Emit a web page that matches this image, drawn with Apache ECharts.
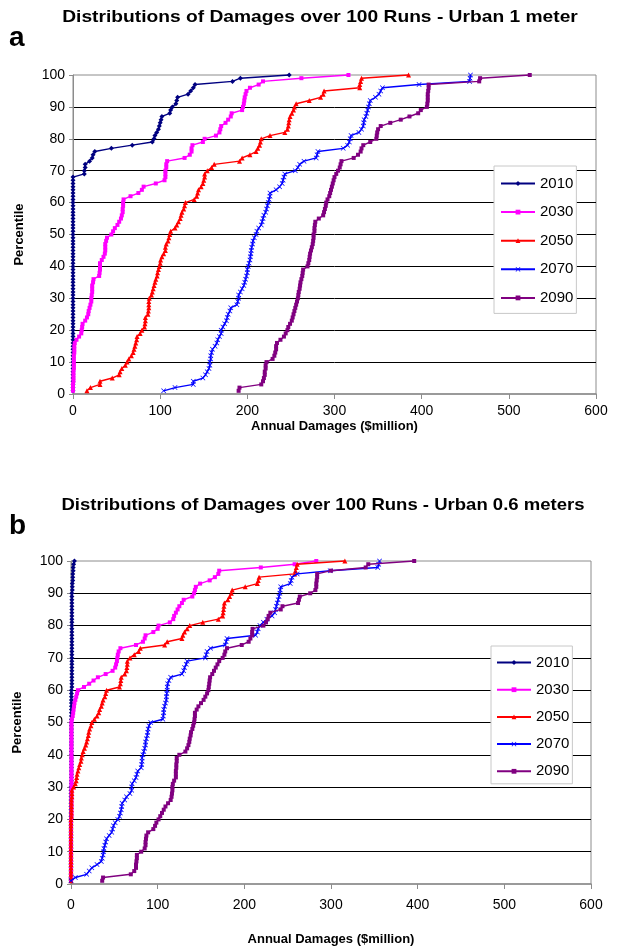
<!DOCTYPE html>
<html>
<head>
<meta charset="utf-8">
<script src="https://cdn.jsdelivr.net/npm/echarts@6/dist/echarts.min.js"></script>
<style>
html,body{margin:0;padding:0;background:#fff;}
#chart{width:617px;height:949px;}
</style>
</head>
<body>
<div id="chart"></div>
<script>
// ---- DATA ----
const years = ['2010', '2030', '2050', '2070', '2090'];
const xTicks = [0, 100, 200, 300, 400, 500, 600];
const yTicks = [0, 10, 20, 30, 40, 50, 60, 70, 80, 90, 100];
const titleA = 'Distributions of Damages over 100 Runs - Urban 1 meter';
const titleB = 'Distributions of Damages over 100 Runs - Urban 0.6 meters';
const xName = 'Annual Damages ($million)';
const yName = 'Percentile';

// percentile rank of each of the 100 runs
const percentile = [
  1,2,3,4,5,6,7,8,9,10, 11,12,13,14,15,16,17,18,19,20,
  21,22,23,24,25,26,27,28,29,30, 31,32,33,34,35,36,37,38,39,40,
  41,42,43,44,45,46,47,48,49,50, 51,52,53,54,55,56,57,58,59,60,
  61,62,63,64,65,66,67,68,69,70, 71,72,73,74,75,76,77,78,79,80,
  81,82,83,84,85,86,87,88,89,90, 91,92,93,94,95,96,97,98,99,100
];

// Panel a: Urban 1 meter (damages, $million, sorted by run percentile)
const a2010 = [
  0,0,0,0,0,0,0,0,0,0, 0,0,0,0,0,0,0,0,0,0,
  0,0,0,0,0,0,0,0,0,0, 0,0,0,0,0,0,0,0,0,0,
  0,0,0,0,0,0,0,0,0,0, 0,0,0,0,0,0,0,0,0,0,
  0,0,0,0,0,0,0,0,13,13, 14,14,19,22,23,25,44,68,91,93,
  94,96,98,99,100,101,102,111,112,114, 118,119,120,132,135,138,140,183,192,248
];
const a2030 = [
  0,0,0,0.5,0.5,0.5,0.5,1,1,1, 1,1,1.5,1.5,1.5,2,4,7,9.5,10,
  10.5,11,14,16,17.5,18,19,20,21,21, 21.5,22,22,22,23,23.5,30,30.5,31,31,
  31,33,35,36.5,37,37,37,38,39,44, 46,48,51,53,55,56,57,57,57.5,57.5,
  58,66,75,79,81,95,105,106,106,106, 107,107,108,128,134,136,136,137,149,151,
  164,168,169,170,175,178,181,182,194,195, 196,196.5,197,198,199,203,213,218,262,316
];
const a2050 = [
  16,20,31,31,45,53,54,56,60,62, 64,67,69,70,71,72,73,73.5,77,79,
  82,82.5,83,83,86,86.5,87,87,87,87.5, 90,91,92,93,94,95,96.5,97,98,99,
  100,100.5,102,104,106,106,107,109,110,111, 112,117,119,121,123,124,125,127,128,129,
  139,142,143,144,147,149,150,151,151,154, 159,162,191,194,203,210,212,214,215,216,
  226,243,246,247,247.5,248,249,251,253,254, 256,271,284,287,288,329,329,330,331,385
];
const a2070 = [
  104,117,138,138,149,152,154,156,157,157, 158,158,159,160,163,165,166,168,170,170,
  172,174,176,177,178,180,181,188,189,190, 190,192,194,196,197,198,199,200,200,201,
  202,203,203.5,204,204.5,205,206,206.5,208,210, 211,213,216,217,218,219,221,222,223,224,
  225,226,226,233,237,240,241,242,243,255, 258,260,265,279,280,281,310,315,317,318,
  319,328,331,333,333.5,334,336,337,338,339, 340,341,347,351,353,355,397,455,455.5,456
];
const a2090 = [
  190,191,216,218,219,220,220,221,221,222, 229,231,232,233,233,234,238,242,244,246,
  247,249,251,252,253,254,255,256,257,258, 258.5,259,260,260.5,261,262,263,263.5,264,269,
  270,271,271.5,272,273,274,275,275.5,276,276, 277,277,277.5,278,282,287,288,289,290,290.5,
  292,294,295,296,297,298,299,300,302,304, 306,307,308,322,327,330,331,333,341,348,
  348.5,349,350,353,364,376,386,396,399,406, 406.5,407,407,407,407.5,408,408,466,467,524
];

// Panel b: Urban 0.6 meters
const b2010 = [
  0,0,0,0,0,0,0,0,0,0, 0,0,0,0,0,0,0,0,0,0,
  0,0,0,0,0,0,0,0,0,0, 0.5,0.5,0.5,0.5,0.5,0.5,0.5,0.5,0.5,0.5,
  0.5,0.5,0.5,0.5,0.5,0.5,0.5,0.5,0.5,0.5, 0.5,0.5,0.5,0.5,0.5,0.5,0.5,0.5,0.5,0.5,
  1,1,1,1,1,1,1,1,1,1, 1,1,1,1,1,1,1,1,1,1,
  1,1,1,1,1,1,1,1,1,1, 1.5,1.5,1.5,2,2,2,2.5,2.5,3,4
];
const b2030 = [
  0,0,0,0,0,0,0,0,0,0, 0,0,0,0,0,0,0,0,0,0,
  0.5,0.5,0.5,0.5,0.5,0.5,0.5,0.5,0.5,0.5, 0.5,0.5,0.5,0.5,0.5,0.5,0.5,0.5,0.5,0.5,
  0.5,0.5,0.5,0.5,0.5,0.5,0.5,0.5,0.5,0.5, 1,2,2.5,3,3.5,4,5,6,7,8,
  15,21,26,31,40,48,51,52,53,53.5, 54,55,57,75,83,85,86,95,100,101,
  114,118,119,121,123,125,128,130,140,142, 143,144,149,160,166,170,171,219,258,283
];
const b2050 = [
  0,0,0,0,0,0,0,0,0,0, 0,0,0,0,0,0,0,0,0,0,
  0.5,0.5,0.5,0.5,0.5,0.5,1,1,1,3, 5,6,6.5,7,8,9,10,11.5,12,13,
  14,15.5,17,18,19,20,20.5,21.5,23,24, 27,30,32,33,35,36,37,39,40,41,
  56,57,57.5,58,62,64,64.5,65,65,68, 73,78,80,108,111,128,129,131,134,137,
  152,170,175,175.5,176,176.5,177,181,183,185, 186,201,215,216,217,258,259,260,261,316
];
const b2070 = [
  0,5,18,21,24,30,35,36,37,37.5, 38,39,40,41,44,47,48,49,51,54,
  56,57,58,58.5,59,62,64,68,70,70, 70.5,73,75,76,77,81,81.5,82,82,83,
  84,85,86,86,87,88,88.5,89,90,92, 106,106.5,107,107,108,109,110,110,110.5,111,
  111,111.5,113,115,128,130,131,133,134,155, 156,157,161,178,179,180,213,215,216,218,
  222,226,232,235,236,237,238,239,240,241, 241.5,242,253,254,255,261,299,354,355,356
];
const b2090 = [
  36,37,69,73,75,75,75.5,76,76,81, 85,86,86,86.5,87,89,95,97,98.5,101,
  103,105,107,109,112,115,116,116.5,117,117, 117.5,119,121,121,121,121.5,121.5,122,122,125,
  132,134,135.5,136.5,137,138,138.5,140,141,142, 142.5,143,143,145,147,150,153,155,157,158.5,
  159,159.5,160,160.5,163,165,167,169,171,175, 177,178,180,197,205,207,209,209,209.5,222,
  225,227,228,230,242,244,262,263,264,276, 282,283,283,283.5,284,284,300,340,343,396
];

// ---- STYLE ----
const colors = ['#000080', '#FF00FF', '#FF0000', '#0000FF', '#800080'];
const xMark = 'path://M0,1L1,0L5,4L9,0L10,1L6,5L10,9L9,10L5,6L1,10L0,9L4,5Z';
const symbols = ['diamond', 'rect', 'triangle', xMark, 'rect'];
const symbolSizes = [5, 4, 5, 5, 4];
const FONT = '"Liberation Sans", Arial, Helvetica, sans-serif';

const panelA = [a2010, a2030, a2050, a2070, a2090];
const panelB = [b2010, b2030, b2050, b2070, b2090];

function pairs(vals) {
  return vals.map((v, i) => [v, percentile[i]]);
}

function makeX(gi, labelMargin, nameGap) {
  return {
    type: 'value', gridIndex: gi, min: xTicks[0], max: xTicks[xTicks.length - 1], interval: 100,
    axisLine: { show: true, onZero: false, lineStyle: { color: '#8c8c8c', width: 1.5 } },
    axisTick: { show: true, length: 5, lineStyle: { color: '#8c8c8c' } },
    axisLabel: { color: '#000', fontSize: 14, fontFamily: FONT, margin: labelMargin },
    splitLine: { show: false },
    name: xName, nameLocation: 'middle', nameGap: nameGap,
    nameTextStyle: { color: '#000', fontSize: 13, fontWeight: 'bold', fontFamily: FONT }
  };
}
function makeY(gi) {
  return {
    type: 'value', gridIndex: gi, min: yTicks[0], max: yTicks[yTicks.length - 1], interval: 10,
    axisLine: { show: true, onZero: false, lineStyle: { color: '#8c8c8c', width: 1 } },
    axisTick: { show: true, length: 4, lineStyle: { color: '#8c8c8c' } },
    axisLabel: { color: '#000', fontSize: 14, fontFamily: FONT, margin: 8 },
    splitLine: { show: true, showMinLine: false, showMaxLine: false, lineStyle: { color: '#000', width: 1 } },
    name: yName, nameLocation: 'middle', nameGap: 47, nameRotate: 90,
    nameTextStyle: { color: '#000', fontSize: 13, fontWeight: 'bold', fontFamily: FONT }
  };
}

const series = [];
[panelA, panelB].forEach((panel, pi) => {
  panel.forEach((vals, si) => {
    series.push({
      name: years[si], type: 'line', xAxisIndex: pi, yAxisIndex: pi,
      data: pairs(vals), symbol: symbols[si], symbolSize: symbolSizes[si],
      showSymbol: true, clip: false, color: colors[si],
      lineStyle: { color: colors[si], width: 1.4 },
      itemStyle: { color: colors[si] },
      emphasis: { disabled: true }, z: 3 + si
    });
  });
});

function makeLegend(left, top, gap, padding) {
  return {
    show: true, orient: 'vertical', left: left, top: top,
    data: years.map(y => ({ name: y })),
    itemWidth: 34, itemHeight: 6, itemGap: gap,
    backgroundColor: '#fff', borderColor: '#c8c8c8', borderWidth: 1, borderRadius: 0,
    padding: padding,
    textStyle: { color: '#000', fontSize: 15, lineHeight: 15, fontFamily: FONT },
    selectedMode: false
  };
}

const option = {
  animation: false,
  backgroundColor: '#fff',
  textStyle: { fontFamily: FONT },
  grid: [
    { left: 73, top: 75, width: 523, height: 319, show: true, borderColor: '#8c8c8c', borderWidth: 1, backgroundColor: 'transparent', containLabel: false },
    { left: 71, top: 561, width: 520, height: 323, show: true, borderColor: '#8c8c8c', borderWidth: 1, backgroundColor: 'transparent', containLabel: false }
  ],
  xAxis: [makeX(0, 10, 26), makeX(1, 14, 49)],
  yAxis: [makeY(0), makeY(1)],
  legend: [
    makeLegend(494, 166, 13.6, [10, 3, 8, 6]),
    makeLegend(491, 646, 12.2, [9, 3, 5, 5])
  ],
  graphic: [
    { type: 'text', x: 320, y: 17, scaleX: 1.13, style: { text: titleA, font: 'bold 17px ' + FONT, fill: '#000', align: 'center', verticalAlign: 'middle', textAlign: 'center', textVerticalAlign: 'middle' } },
    { type: 'text', x: 323, y: 505, scaleX: 1.09, style: { text: titleB, font: 'bold 17px ' + FONT, fill: '#000', align: 'center', verticalAlign: 'middle', textAlign: 'center', textVerticalAlign: 'middle' } },
    { type: 'text', left: 9, top: 24, style: { text: 'a', font: 'bold 28px ' + FONT, fill: '#000' } },
    { type: 'text', left: 9, top: 512, style: { text: 'b', font: 'bold 28px ' + FONT, fill: '#000' } }
  ],
  series: series
};

const chart = echarts.init(document.getElementById('chart'), null, { renderer: 'canvas', width: 617, height: 949 });
chart.setOption(option);
</script>
</body>
</html>
